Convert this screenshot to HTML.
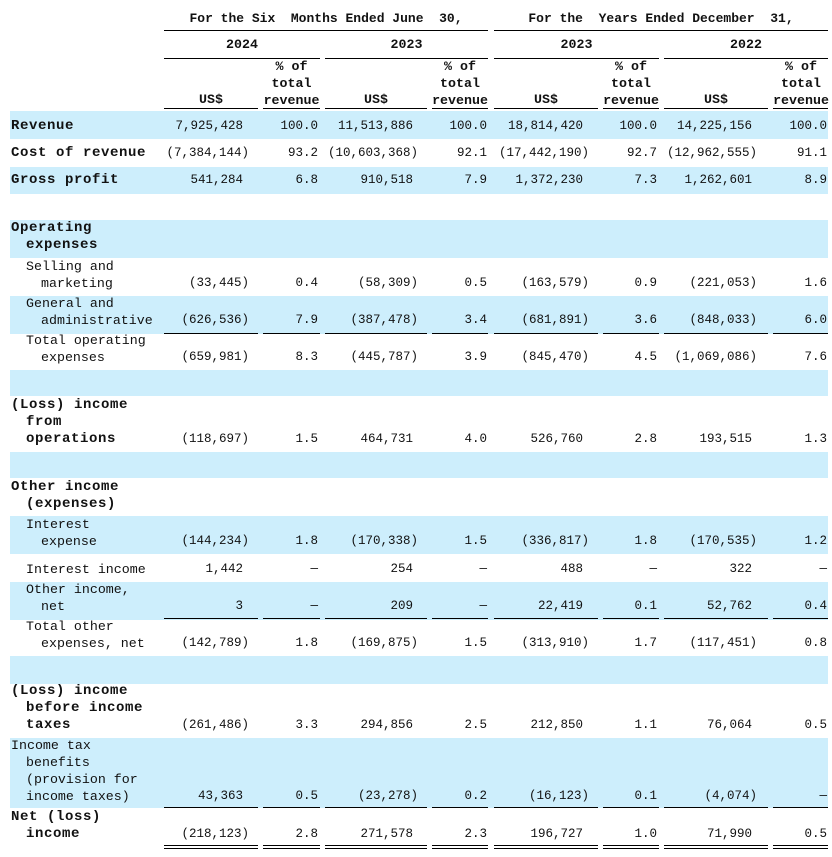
<!DOCTYPE html>
<html><head><meta charset="utf-8"><style>
body{margin:0;width:832px;height:857px;background:#fff;position:relative;overflow:hidden;font-family:"Liberation Mono","Noto Sans CJK SC",monospace;font-size:13.3px;color:#111}
div{position:absolute;white-space:pre;line-height:17px;height:17px}
.bd{background:#cdeefc;left:10px;width:818px;height:auto}
.b{font-weight:bold;font-size:14px;letter-spacing:0.6px}
.h{font-weight:bold;text-align:center;font-size:13.3px}
.h1{font-size:13px}
.l{background:#000;height:1px}
.v{text-align:right;font-size:12.5px}
</style></head><body>
<div class="bd" style="top:111px;height:28px"></div>
<div class="bd" style="top:167px;height:27px"></div>
<div class="bd" style="top:220px;height:38px"></div>
<div class="bd" style="top:296px;height:38px"></div>
<div class="bd" style="top:370px;height:26px"></div>
<div class="bd" style="top:452px;height:26px"></div>
<div class="bd" style="top:516px;height:38px"></div>
<div class="bd" style="top:582px;height:38px"></div>
<div class="bd" style="top:656px;height:28px"></div>
<div class="bd" style="top:738px;height:70px"></div>

<div class="h h1" style="top:10px;left:164px;width:324px">For the Six  Months Ended June  30,</div>
<div class="h h1" style="top:10px;left:494px;width:334px">For the  Years Ended December  31,</div>
<div class="l" style="top:30px;left:164px;width:324px"></div>
<div class="l" style="top:30px;left:494px;width:334px"></div>
<div class="h" style="top:36px;left:164px;width:156px">2024</div>
<div class="h" style="top:36px;left:325px;width:163px">2023</div>
<div class="h" style="top:36px;left:494px;width:165px">2023</div>
<div class="h" style="top:36px;left:664px;width:164px">2022</div>
<div class="l" style="top:58px;left:164px;width:156px"></div>
<div class="l" style="top:58px;left:325px;width:163px"></div>
<div class="l" style="top:58px;left:494px;width:165px"></div>
<div class="l" style="top:58px;left:664px;width:164px"></div>

<div class="h" style="top:91px;left:164px;width:94px">US$</div>
<div class="h" style="top:91px;left:325px;width:102px">US$</div>
<div class="h" style="top:91px;left:494px;width:104px">US$</div>
<div class="h" style="top:91px;left:664px;width:104px">US$</div>
<div class="h" style="top:58px;left:263px;width:57px;height:51px">% of
total
revenue</div>
<div class="h" style="top:58px;left:432px;width:56px;height:51px">% of
total
revenue</div>
<div class="h" style="top:58px;left:603px;width:56px;height:51px">% of
total
revenue</div>
<div class="h" style="top:58px;left:773px;width:56px;height:51px">% of
total
revenue</div>
<div class="l" style="top:108px;left:164px;width:94px"></div>
<div class="l" style="top:108px;left:263px;width:57px"></div>
<div class="l" style="top:108px;left:325px;width:102px"></div>
<div class="l" style="top:108px;left:432px;width:56px"></div>
<div class="l" style="top:108px;left:494px;width:104px"></div>
<div class="l" style="top:108px;left:603px;width:56px"></div>
<div class="l" style="top:108px;left:664px;width:104px"></div>
<div class="l" style="top:108px;left:773px;width:55px"></div>

<!-- labels -->
<div class="b" style="top:118px;left:11px">Revenue</div>
<div class="b" style="top:145px;left:11px">Cost of revenue</div>
<div class="b" style="top:172px;left:11px">Gross profit</div>
<div class="b" style="top:220px;left:11px">Operating</div>
<div class="b" style="top:237px;left:26px">expenses</div>
<div style="top:258px;left:26px">Selling and</div>
<div style="top:275px;left:41px">marketing</div>
<div style="top:295px;left:26px">General and</div>
<div style="top:312px;left:41px">administrative</div>
<div style="top:332px;left:26px">Total operating</div>
<div style="top:349px;left:41px">expenses</div>
<div class="b" style="top:397px;left:11px">(Loss) income</div>
<div class="b" style="top:414px;left:26px">from</div>
<div class="b" style="top:431px;left:26px">operations</div>
<div class="b" style="top:479px;left:11px">Other income</div>
<div class="b" style="top:496px;left:26px">(expenses)</div>
<div style="top:516px;left:26px">Interest</div>
<div style="top:533px;left:41px">expense</div>
<div style="top:561px;left:26px">Interest income</div>
<div style="top:581px;left:26px">Other income,</div>
<div style="top:598px;left:41px">net</div>
<div style="top:618px;left:26px">Total other</div>
<div style="top:635px;left:41px">expenses, net</div>
<div class="b" style="top:683px;left:11px">(Loss) income</div>
<div class="b" style="top:700px;left:26px">before income</div>
<div class="b" style="top:717px;left:26px">taxes</div>
<div style="top:737px;left:11px">Income tax</div>
<div style="top:754px;left:26px">benefits</div>
<div style="top:771px;left:26px">(provision for</div>
<div style="top:788px;left:26px">income taxes)</div>
<div class="b" style="top:809px;left:11px">Net (loss)</div>
<div class="b" style="top:826px;left:26px">income</div>

<!-- values -->
<div class="v" style="top:118px;right:589px">7,925,428</div><div class="v" style="top:118px;right:514px">100.0</div><div class="v" style="top:118px;right:419px">11,513,886</div><div class="v" style="top:118px;right:345px">100.0</div><div class="v" style="top:118px;right:249px">18,814,420</div><div class="v" style="top:118px;right:175px">100.0</div><div class="v" style="top:118px;right:80px">14,225,156</div><div class="v" style="top:118px;right:5px">100.0</div>

<div class="v" style="top:145px;right:583px">(7,384,144)</div><div class="v" style="top:145px;right:514px">93.2</div><div class="v" style="top:145px;right:414px">(10,603,368)</div><div class="v" style="top:145px;right:345px">92.1</div><div class="v" style="top:145px;right:243px">(17,442,190)</div><div class="v" style="top:145px;right:175px">92.7</div><div class="v" style="top:145px;right:75px">(12,962,555)</div><div class="v" style="top:145px;right:5px">91.1</div>

<div class="v" style="top:172px;right:589px">541,284</div><div class="v" style="top:172px;right:514px">6.8</div><div class="v" style="top:172px;right:419px">910,518</div><div class="v" style="top:172px;right:345px">7.9</div><div class="v" style="top:172px;right:249px">1,372,230</div><div class="v" style="top:172px;right:175px">7.3</div><div class="v" style="top:172px;right:80px">1,262,601</div><div class="v" style="top:172px;right:5px">8.9</div>

<div class="v" style="top:275px;right:583px">(33,445)</div><div class="v" style="top:275px;right:514px">0.4</div><div class="v" style="top:275px;right:414px">(58,309)</div><div class="v" style="top:275px;right:345px">0.5</div><div class="v" style="top:275px;right:243px">(163,579)</div><div class="v" style="top:275px;right:175px">0.9</div><div class="v" style="top:275px;right:75px">(221,053)</div><div class="v" style="top:275px;right:5px">1.6</div>

<div class="v" style="top:312px;right:583px">(626,536)</div><div class="v" style="top:312px;right:514px">7.9</div><div class="v" style="top:312px;right:414px">(387,478)</div><div class="v" style="top:312px;right:345px">3.4</div><div class="v" style="top:312px;right:243px">(681,891)</div><div class="v" style="top:312px;right:175px">3.6</div><div class="v" style="top:312px;right:75px">(848,033)</div><div class="v" style="top:312px;right:5px">6.0</div>

<div class="v" style="top:349px;right:583px">(659,981)</div><div class="v" style="top:349px;right:514px">8.3</div><div class="v" style="top:349px;right:414px">(445,787)</div><div class="v" style="top:349px;right:345px">3.9</div><div class="v" style="top:349px;right:243px">(845,470)</div><div class="v" style="top:349px;right:175px">4.5</div><div class="v" style="top:349px;right:75px">(1,069,086)</div><div class="v" style="top:349px;right:5px">7.6</div>

<div class="v" style="top:431px;right:583px">(118,697)</div><div class="v" style="top:431px;right:514px">1.5</div><div class="v" style="top:431px;right:419px">464,731</div><div class="v" style="top:431px;right:345px">4.0</div><div class="v" style="top:431px;right:249px">526,760</div><div class="v" style="top:431px;right:175px">2.8</div><div class="v" style="top:431px;right:80px">193,515</div><div class="v" style="top:431px;right:5px">1.3</div>

<div class="v" style="top:533px;right:583px">(144,234)</div><div class="v" style="top:533px;right:514px">1.8</div><div class="v" style="top:533px;right:414px">(170,338)</div><div class="v" style="top:533px;right:345px">1.5</div><div class="v" style="top:533px;right:243px">(336,817)</div><div class="v" style="top:533px;right:175px">1.8</div><div class="v" style="top:533px;right:75px">(170,535)</div><div class="v" style="top:533px;right:5px">1.2</div>

<div class="v" style="top:561px;right:589px">1,442</div><div class="v" style="top:561px;right:514px">—</div><div class="v" style="top:561px;right:419px">254</div><div class="v" style="top:561px;right:345px">—</div><div class="v" style="top:561px;right:249px">488</div><div class="v" style="top:561px;right:175px">—</div><div class="v" style="top:561px;right:80px">322</div><div class="v" style="top:561px;right:5px">—</div>

<div class="v" style="top:598px;right:589px">3</div><div class="v" style="top:598px;right:514px">—</div><div class="v" style="top:598px;right:419px">209</div><div class="v" style="top:598px;right:345px">—</div><div class="v" style="top:598px;right:249px">22,419</div><div class="v" style="top:598px;right:175px">0.1</div><div class="v" style="top:598px;right:80px">52,762</div><div class="v" style="top:598px;right:5px">0.4</div>

<div class="v" style="top:635px;right:583px">(142,789)</div><div class="v" style="top:635px;right:514px">1.8</div><div class="v" style="top:635px;right:414px">(169,875)</div><div class="v" style="top:635px;right:345px">1.5</div><div class="v" style="top:635px;right:243px">(313,910)</div><div class="v" style="top:635px;right:175px">1.7</div><div class="v" style="top:635px;right:75px">(117,451)</div><div class="v" style="top:635px;right:5px">0.8</div>

<div class="v" style="top:717px;right:583px">(261,486)</div><div class="v" style="top:717px;right:514px">3.3</div><div class="v" style="top:717px;right:419px">294,856</div><div class="v" style="top:717px;right:345px">2.5</div><div class="v" style="top:717px;right:249px">212,850</div><div class="v" style="top:717px;right:175px">1.1</div><div class="v" style="top:717px;right:80px">76,064</div><div class="v" style="top:717px;right:5px">0.5</div>

<div class="v" style="top:788px;right:589px">43,363</div><div class="v" style="top:788px;right:514px">0.5</div><div class="v" style="top:788px;right:414px">(23,278)</div><div class="v" style="top:788px;right:345px">0.2</div><div class="v" style="top:788px;right:243px">(16,123)</div><div class="v" style="top:788px;right:175px">0.1</div><div class="v" style="top:788px;right:75px">(4,074)</div><div class="v" style="top:788px;right:5px">—</div>

<div class="v" style="top:826px;right:583px">(218,123)</div><div class="v" style="top:826px;right:514px">2.8</div><div class="v" style="top:826px;right:419px">271,578</div><div class="v" style="top:826px;right:345px">2.3</div><div class="v" style="top:826px;right:249px">196,727</div><div class="v" style="top:826px;right:175px">1.0</div><div class="v" style="top:826px;right:80px">71,990</div><div class="v" style="top:826px;right:5px">0.5</div>

<!-- underlines -->
<div class="l" style="top:333px;left:164px;width:94px"></div><div class="l" style="top:333px;left:263px;width:57px"></div><div class="l" style="top:333px;left:325px;width:102px"></div><div class="l" style="top:333px;left:432px;width:56px"></div><div class="l" style="top:333px;left:494px;width:104px"></div><div class="l" style="top:333px;left:603px;width:56px"></div><div class="l" style="top:333px;left:664px;width:104px"></div><div class="l" style="top:333px;left:773px;width:55px"></div>
<div class="l" style="top:618px;left:164px;width:94px"></div><div class="l" style="top:618px;left:263px;width:57px"></div><div class="l" style="top:618px;left:325px;width:102px"></div><div class="l" style="top:618px;left:432px;width:56px"></div><div class="l" style="top:618px;left:494px;width:104px"></div><div class="l" style="top:618px;left:603px;width:56px"></div><div class="l" style="top:618px;left:664px;width:104px"></div><div class="l" style="top:618px;left:773px;width:55px"></div>
<div class="l" style="top:807px;left:164px;width:94px"></div><div class="l" style="top:807px;left:263px;width:57px"></div><div class="l" style="top:807px;left:325px;width:102px"></div><div class="l" style="top:807px;left:432px;width:56px"></div><div class="l" style="top:807px;left:494px;width:104px"></div><div class="l" style="top:807px;left:603px;width:56px"></div><div class="l" style="top:807px;left:664px;width:104px"></div><div class="l" style="top:807px;left:773px;width:55px"></div>
<div class="l" style="top:845px;left:164px;width:94px"></div><div class="l" style="top:845px;left:263px;width:57px"></div><div class="l" style="top:845px;left:325px;width:102px"></div><div class="l" style="top:845px;left:432px;width:56px"></div><div class="l" style="top:845px;left:494px;width:104px"></div><div class="l" style="top:845px;left:603px;width:56px"></div><div class="l" style="top:845px;left:664px;width:104px"></div><div class="l" style="top:845px;left:773px;width:55px"></div>
<div class="l" style="top:848px;left:164px;width:94px"></div><div class="l" style="top:848px;left:263px;width:57px"></div><div class="l" style="top:848px;left:325px;width:102px"></div><div class="l" style="top:848px;left:432px;width:56px"></div><div class="l" style="top:848px;left:494px;width:104px"></div><div class="l" style="top:848px;left:603px;width:56px"></div><div class="l" style="top:848px;left:664px;width:104px"></div><div class="l" style="top:848px;left:773px;width:55px"></div>
</body></html>
